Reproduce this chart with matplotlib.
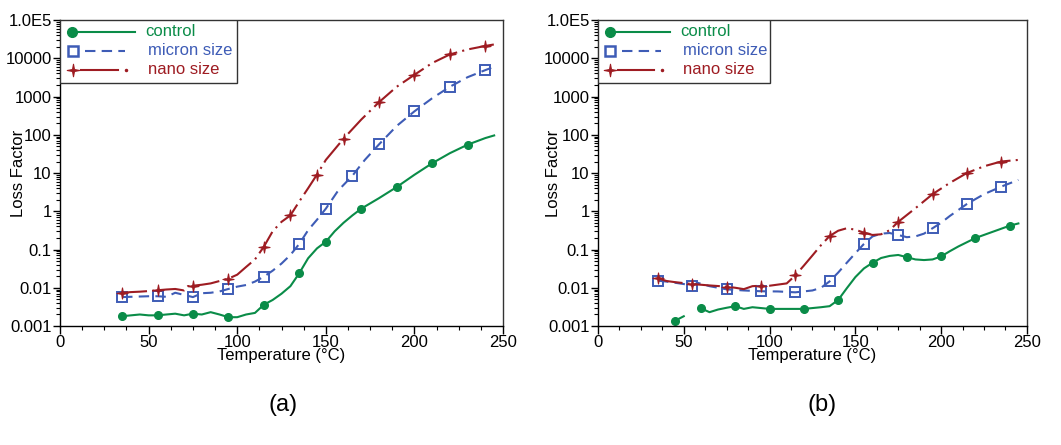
import numpy as np
import matplotlib
matplotlib.use("Agg")
import matplotlib.pyplot as plt
from matplotlib.patches import Rectangle
from matplotlib.path import Path

plt.rcParams["font.family"] = ["Liberation Sans", "DejaVu Sans"]
plt.rcParams["font.size"] = 12

GREEN = "#0a8c48"
BLUE = "#3e5cb6"
RED = "#9e1c22"

# panel (a)
a_ctrl_x = [35, 40, 45, 50, 55, 60, 65, 70, 75, 80, 85, 90, 95, 100, 105, 110, 115, 120, 125, 130,
            135, 140, 145, 150, 155, 160, 165, 170, 180, 190, 200, 210, 220, 230, 240, 245]
a_ctrl_y = [0.0018, 0.0019, 0.0020, 0.0019, 0.0019, 0.0020, 0.0021, 0.0019, 0.0021, 0.0020, 0.0023,
            0.0020, 0.0017, 0.0017, 0.0020, 0.0022, 0.0036, 0.0048, 0.0070, 0.011, 0.024, 0.059,
            0.107, 0.16, 0.30, 0.50, 0.78, 1.17, 2.2, 4.3, 9, 18, 33, 55, 82, 96]
a_ctrl_m = [35, 55, 75, 95, 115, 135, 150, 170, 190, 210, 230]

a_micron_x = [35, 40, 45, 50, 55, 60, 65, 70, 75, 80, 85, 90, 95, 100, 105, 110, 115, 120, 125, 130,
              135, 140, 145, 150, 157, 165, 172, 180, 190, 200, 210, 220, 230, 240, 245]
a_micron_y = [0.0057, 0.0058, 0.0059, 0.0060, 0.0060, 0.0058, 0.0074, 0.0065, 0.0057, 0.0072, 0.0074,
              0.0080, 0.0093, 0.0107, 0.0118, 0.0145, 0.0195, 0.028, 0.043, 0.072, 0.14, 0.32, 0.60,
              1.17, 3.5, 8.5, 22, 56, 170, 410, 900, 1800, 3200, 4900, 6000]
a_micron_m = [35, 55, 75, 95, 115, 135, 150, 165, 180, 200, 220, 240]

a_nano_x = [35, 40, 45, 50, 55, 60, 65, 70, 72, 75, 80, 85, 90, 95, 100, 105, 110, 115, 120, 125,
            130, 135, 140, 145, 150, 160, 170, 180, 190, 200, 210, 220, 230, 240, 245]
a_nano_y = [0.0074, 0.0077, 0.0079, 0.0082, 0.0086, 0.0090, 0.0093, 0.0085, 0.0110, 0.0113, 0.0120,
            0.0130, 0.0150, 0.0173, 0.022, 0.035, 0.055, 0.118, 0.30, 0.53, 0.78, 1.8, 4.0, 9.1,
            22, 79, 250, 710, 1800, 3700, 7500, 12600, 17000, 21000, 23000]
a_nano_m = [35, 55, 75, 95, 115, 130, 145, 160, 180, 200, 220, 240]

# panel (b)
b_ctrl_x = [45, 50, np.nan, 60, 65, 70, 75, 80, 85, 90, 100, 110, 120, 130, 135, 140, 145, 150, 155,
            160, 165, 170, 175, 180, 185, 190, 195, 200, 205, 210, 220, 230, 240, 245]
b_ctrl_y = [0.00138, 0.0018, np.nan, 0.0029, 0.0023, 0.0027, 0.0030, 0.0033, 0.0028, 0.0031, 0.0028,
            0.0028, 0.0028, 0.0031, 0.0033, 0.0048, 0.0097, 0.019, 0.032, 0.045, 0.060, 0.068,
            0.072, 0.063, 0.055, 0.053, 0.055, 0.066, 0.09, 0.12, 0.20, 0.29, 0.42, 0.48]
b_ctrl_m = [45, 60, 80, 100, 120, 140, 160, 180, 200, 220, 240]

b_micron_x = [35, 40, 45, 50, 55, 58, 65, 75, 85, 95, 105, 115, 125, 130, 135, 140, 145, 150, 155,
              160, 165, 170, 175, 180, 185, 190, 195, 200, 205, 215, 225, 235, 245]
b_micron_y = [0.0153, 0.0145, 0.0135, 0.0125, 0.0113, 0.0135, 0.011, 0.0091, 0.0085, 0.0081, 0.0080,
              0.0076, 0.0085, 0.010, 0.0147, 0.025, 0.045, 0.08, 0.14, 0.22, 0.26, 0.27, 0.24, 0.21,
              0.22, 0.26, 0.36, 0.50, 0.75, 1.55, 2.8, 4.4, 6.6]
b_micron_m = [35, 55, 75, 95, 115, 135, 155, 175, 195, 215, 235]

b_nano_x = [35, 40, 45, 55, 65, 75, 80, 85, 90, 95, 100, 110, 115, 120, 125, 130, 135, 140, 145,
            150, 155, 160, 165, 170, 175, 185, 195, 205, 215, 225, 235, 245]
b_nano_y = [0.0177, 0.015, 0.014, 0.0125, 0.0115, 0.0107, 0.0100, 0.0092, 0.0110, 0.0113, 0.0113,
            0.0130, 0.021, 0.038, 0.07, 0.13, 0.225, 0.31, 0.36, 0.33, 0.275, 0.24, 0.25, 0.32,
            0.53, 1.2, 2.8, 5.5, 10, 15, 20, 22]
b_nano_m = [35, 55, 75, 95, 115, 135, 155, 175, 195, 215, 235]

ytick_vals = [0.001, 0.01, 0.1, 1, 10, 100, 1000, 10000, 1e5]
ytick_labels = ["0.001", "0.01", "0.1", "1", "10", "100", "1000", "10000", "1.0E5"]
xtick_vals = [0, 50, 100, 150, 200, 250]

# thin four-pointed star
_ang = np.arange(8) * np.pi / 4 + np.pi / 2
_rad = np.where(np.arange(8) % 2 == 0, 1.0, 0.22)
_verts = np.column_stack([_rad * np.cos(_ang), _rad * np.sin(_ang)])
STAR = Path(np.vstack([_verts, _verts[:1]]), closed=True)


def draw(ax, x, y, marks, color, marker, dashes, msize, mfc, mew):
    x = np.array(x, dtype=float)
    idx = list(np.where(np.isin(x, marks))[0])
    line, = ax.plot(x, y, color=color, lw=1.5, marker=marker, markevery=idx,
                    markersize=msize, markerfacecolor=mfc, markeredgecolor=color,
                    markeredgewidth=mew)
    if dashes:
        line.set_dashes(dashes)


def legend(ax):
    ax.add_patch(Rectangle((0, 0.794), 0.4, 0.206, transform=ax.transAxes, facecolor="white",
                           edgecolor="#333333", lw=1.0, zorder=5))
    kw = dict(transform=ax.transAxes, zorder=6, clip_on=False)
    ax.plot([0.027], [0.961], marker="o", ms=7, color=GREEN, **kw)
    ax.plot([0.041, 0.169], [0.961, 0.961], color=GREEN, lw=1.5, **kw)
    ax.text(0.192, 0.961, "control", color=GREEN, va="center", ha="left", fontsize=12, **kw)
    ax.plot([0.029], [0.899], marker="s", ms=7.5, mfc="none", mec=BLUE, mew=1.8, **kw)
    ax.plot([0.056, 0.147], [0.899, 0.899], color=BLUE, lw=1.5, dashes=(5, 3), **kw)
    ax.text(0.199, 0.899, "micron size", color=BLUE, va="center", ha="left", fontsize=12, **kw)
    ax.plot([0.029], [0.837], marker=STAR, ms=9, color=RED, mew=0.8, **kw)
    ax.plot([0.047, 0.131], [0.837, 0.837], color=RED, lw=1.5, **kw)
    ax.plot([0.149], [0.837], marker="o", ms=1.5, color=RED, **kw)
    ax.text(0.199, 0.837, "nano size", color=RED, va="center", ha="left", fontsize=12, **kw)


def style(ax):
    ax.set_yscale("log")
    ax.set_ylim(0.001, 1e5)
    ax.set_xlim(0, 250)
    ax.set_yticks(ytick_vals)
    ax.set_yticklabels(ytick_labels)
    ax.set_xticks(xtick_vals)
    ax.set_xticks(np.arange(0, 251, 12.5), minor=True)
    ax.tick_params(axis="both", which="major", direction="out", length=5, width=1, pad=1,
                   labelsize=12)
    ax.tick_params(axis="x", which="major", length=6, pad=0.5)
    ax.tick_params(axis="both", which="minor", direction="out", length=3, width=0.8)
    for s in ["left", "bottom"]:
        ax.spines[s].set_color("black")
        ax.spines[s].set_linewidth(1.0)
    for s in ["top", "right"]:
        ax.spines[s].set_color("#333333")
        ax.spines[s].set_linewidth(1.0)
    ax.set_ylabel("Loss Factor", fontsize=12)
    ax.set_xlabel("Temperature (°C)", fontsize=12)
    ax.xaxis.set_label_coords(0.5, -0.073)


fig = plt.figure(figsize=(10.61, 4.45), dpi=100)
ax1 = fig.add_axes([0.0566, 0.2674, 0.4175, 0.6876])
ax2 = fig.add_axes([0.5636, 0.2674, 0.4043, 0.6876])

draw(ax1, a_ctrl_x, a_ctrl_y, a_ctrl_m, GREEN, "o", None, 5.5, GREEN, 1.0)
draw(ax1, a_micron_x, a_micron_y, a_micron_m, BLUE, "s", (5, 3), 6.5, "none", 1.4)
draw(ax1, a_nano_x, a_nano_y, a_nano_m, RED, STAR, (12, 2.5, 1, 2.5), 8, RED, 0.8)

draw(ax2, b_ctrl_x, b_ctrl_y, b_ctrl_m, GREEN, "o", None, 5.5, GREEN, 1.0)
draw(ax2, b_micron_x, b_micron_y, b_micron_m, BLUE, "s", (5, 3), 6.5, "none", 1.4)
draw(ax2, b_nano_x, b_nano_y, b_nano_m, RED, STAR, (12, 2.5, 1, 2.5), 8, RED, 0.8)

for ax in (ax1, ax2):
    style(ax)
    legend(ax)
ax1.yaxis.set_label_coords(-0.077, 0.5)
ax2.yaxis.set_label_coords(-0.086, 0.5)

fig.text(283 / 1061, 1 - 405 / 445, "(a)", ha="center", va="center", fontsize=17)
fig.text(822 / 1061, 1 - 405 / 445, "(b)", ha="center", va="center", fontsize=17)

fig.savefig("out.png", dpi=100)
